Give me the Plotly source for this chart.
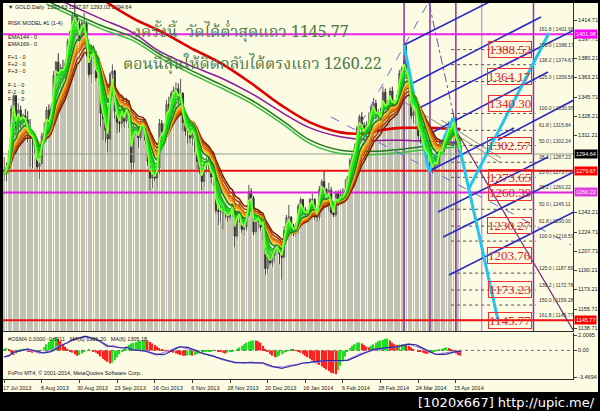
import plotly.graph_objects as go

# ---------------- data ----------------
close = [1277,1283,1295,1335,1347,1318,1334,1323,1329,1325,
         1312,1310,1310,1302,1283,1286,1311,1313,1334,1322,
         1336,1365,1377,1365,1372,1370,1376,1396,1404,1419,
         1418,1411,1396,1412,1412,1390,1366,1386,1386,1363,
         1366,1331,1326,1316,1308,1366,1369,1333,1323,1322,
         1337,1324,1339,1327,1287,1317,1317,1309,1323,1323,
         1307,1288,1273,1276,1273,1282,1322,1315,1315,1339,
         1334,1349,1352,1353,1345,1349,1323,1315,1315,1309,
         1318,1308,1288,1281,1270,1285,1288,1287,1274,1275,
         1244,1243,1244,1242,1242,1238,1242,1250,1221,1242,
         1242,1227,1229,1240,1261,1255,1225,1234,1239,1229,
         1233,1192,1203,1197,1204,1212,1213,1205,1202,1226,
         1238,1238,1230,1225,1229,1248,1254,1245,1240,1242,
         1254,1254,1242,1238,1263,1270,1263,1251,1262,1242,
         1240,1260,1252,1258,1257,1262,1274,1289,1293,1301,
         1318,1328,1320,1312,1321,1323,1336,1340,1329,1331,
         1326,1350,1336,1340,1351,1338,1340,1347,1367,1371,
         1379,1367,1358,1329,1332,1335,1311,1311,1303,1294,
         1294,1284,1280,1289,1285,1303,1297,1310,1312,1320,
         1318,1327,1303,1302,1294.64]
high = [1292,1287,1298,1338,1348,1347,1340,1338,1331,1335,
        1333,1326,1316,1313,1306,1292,1314,1323,1337,1339,
        1340,1369,1378,1385,1375,1379,1379,1398,1405,1421,
        1434,1419,1414,1415,1421,1414,1393,1393,1392,1387,
        1370,1366,1336,1331,1320,1368,1375,1370,1334,1329,
        1343,1338,1345,1343,1329,1324,1329,1320,1326,1326,
        1326,1309,1290,1285,1284,1287,1326,1325,1322,1343,
        1346,1351,1355,1359,1358,1362,1350,1330,1320,1317,
        1322,1322,1318,1292,1285,1287,1292,1292,1289,1283,
        1278,1249,1248,1247,1250,1245,1245,1255,1253,1243,
        1252,1244,1243,1243,1267,1264,1257,1237,1245,1243,
        1236,1236,1213,1206,1206,1213,1217,1213,1207,1230,
        1240,1249,1239,1232,1233,1250,1256,1254,1247,1244,
        1255,1259,1255,1245,1266,1272,1280,1264,1269,1265,
        1248,1262,1262,1263,1264,1272,1275,1291,1295,1304,
        1320,1330,1332,1323,1324,1332,1338,1345,1343,1335,
        1336,1355,1353,1343,1354,1355,1342,1348,1370,1373,
        1383,1392,1366,1361,1336,1339,1338,1315,1316,1307,
        1298,1300,1290,1293,1290,1305,1307,1312,1317,1324,
        1323,1331,1328,1308,1298]
low = [1270,1270,1277,1293,1330,1311,1313,1318,1318,1318,
       1305,1283,1282,1295,1280,1272,1285,1305,1313,1314,
       1321,1330,1360,1363,1356,1364,1358,1372,1383,1394,
       1413,1405,1393,1392,1392,1382,1363,1358,1380,1360,
       1356,1319,1307,1305,1296,1296,1357,1326,1313,1314,
       1318,1318,1322,1318,1277,1281,1311,1300,1306,1311,
       1303,1284,1262,1264,1270,1263,1277,1306,1309,1311,
       1325,1330,1340,1345,1339,1338,1315,1311,1304,1304,
       1302,1296,1281,1277,1262,1265,1278,1278,1268,1266,
       1241,1231,1233,1227,1237,1234,1235,1238,1211,1218,
       1233,1224,1221,1226,1238,1250,1222,1223,1228,1226,
       1217,1186,1188,1195,1193,1198,1207,1196,1182,1202,
       1222,1232,1225,1221,1220,1223,1242,1240,1234,1235,
       1240,1248,1236,1234,1235,1261,1261,1249,1243,1240,
       1238,1238,1248,1250,1252,1254,1262,1273,1284,1288,
       1299,1317,1316,1310,1308,1318,1316,1333,1326,1315,
       1321,1323,1334,1331,1336,1334,1333,1336,1345,1360,
       1368,1365,1354,1326,1322,1321,1306,1304,1302,1289,
       1287,1278,1277,1280,1282,1284,1294,1292,1306,1307,
       1314,1316,1292,1296,1293]
osma = [0.2,0.3,0.1,-0.3,-0.6, -0.4,-0.2,0.1,0.2,
        0.1,-0.1,-0.2,-0.3,-0.2,-0.3,-0.2,0.0,
        0.4,0.8,1.1,1.4,1.6,1.7,1.5,
        1.2,0.8,0.5,0.2,
        -0.1,-0.3,-0.5,-0.7,-0.6,-0.4,-0.2,
        0.0,0.1,0.0,-0.1,-0.3,-0.5,-0.8,-1.1,
        -1.3,-1.5,-1.7,-1.6,-1.3,-0.9,-0.5,
        -0.2,0.1,0.4,0.7,0.9,
        1.0,1.1,1.2,1.25,1.3,1.35,1.3,
        1.1,0.9,0.7,0.5,0.3,0.15,0.05,
        0.0,-0.1,-0.2,
        -0.3,-0.4,-0.5,-0.6,-0.7,-0.7,-0.65,-0.6,-0.7,-0.6,-0.5,-0.4,-0.3,
        -0.25,-0.2,-0.15,-0.1,-0.05,0.0,
        -0.1,-0.2,-0.3,-0.4,-0.3,-0.2,-0.1,0.0,
        0.2,0.4,0.6,0.8,1.0,1.15,1.25,1.3,1.3,1.2,
        1.0,0.6,0.2,-0.2,
        -0.5,-0.7,-0.9,-0.85,-0.7,-0.5,
        -0.3,-0.1,0.05,0.1,0.1,0.05,
        -0.1,-0.3,-0.5,-0.7,-0.9,-1.1,-1.3,-1.5,-1.7,-1.9,-2.1,-2.3,-2.5,-2.7,-2.9,-3.0,-3.1,
        -2.6,-2.0,-1.4,-0.8,-0.2,
        0.3,0.6,0.8,1.0,1.05,
        0.9,0.7,0.5,0.4,
        0.6,0.8,1.0,1.2,1.3,1.4,1.5,1.55,
        1.3,1.0,0.8,
        0.7,0.75,0.8,0.85,0.8,0.6,
        0.4,0.2,0.0,-0.1,-0.2,-0.3,-0.4,-0.45,
        -0.35,-0.25,-0.15,-0.05,
        0.1,0.2,0.3,0.4,
        0.3,0.1,-0.2,-0.4,-0.6,-0.69]

date_ticks = [0,16,32,48,64,80,96,112,128,144,160,176,192]
date_labels = ['17 Jul 2013','8 Aug 2013','30 Aug 2013','23 Sep 2013','16 Oct 2013',
               '6 Nov 2013','28 Nov 2013','20 Dec 2013','16 Jan 2014','6 Feb 2014',
               '28 Feb 2014','24 Mar 2014','15 Apr 2014']
price_ticks = [1414.71,1397.71,1380.21,1363.21,1345.71,1328.21,1311.21,
               1242.21,1224.71,1207.71,1190.21,1173.21,1155.71,1138.71]
osma_ticks = [2.0095, 0.0, -3.4694]
osma_tick_labels = ['2.0095','0.00','-3.4694']

# long moving averages (read at sample bars)
red_ma_x = [40,44,55,67,79,92,105,118,130,143,152,160,169,181,194]
red_ma_y = [1436,1430,1416,1404,1390,1376,1358,1338,1323,1314,1313,1316,1318,1318,1317]
purple_ma_x = [24,41,55,65,79,92,105,118,130,143,156,169,181,194]
purple_ma_y = [1432,1416,1403,1388,1374,1363,1349,1332,1318,1310,1307,1307,1306,1305]
ema144_x = [18,41,55,67,79,92,105,118,130,143,156,169,181,194]
ema144_y = [1432,1410,1399,1383,1370,1357,1343,1325,1307,1298,1297,1299,1302,1304]
ema169_y = [1429,1407,1396,1380,1367,1354,1340,1322,1304,1295,1294,1296,1299,1301]

# horizontal price lines
hline_prices = [1401.98, 1294.64, 1279.67, 1260.22, 1145.77]
hline_colors = ['#ee22ee', '#8fa08f', '#ee1111', '#e020e0', '#ee1111']
hline_widths = [2, 1, 2, 2, 2]

# vertical time lines (bar index)
vline_x = [170, 181, 192, 203, 225]
vline_colors = ['#8a35a0', '#8a35a0', '#8a35a0', '#c9a5d6', '#8a35a0']

# blue channel lines (start bar, start price, end bar, end price)
chan_x0 = [170.0, 173.8, 176.4, 182.3, 209.9, 181.5, 184.4, 186.6, 189.1]
chan_y0 = [1392.3, 1358.3, 1335.9, 1314.3, 1307.2, 1280.3, 1242.7, 1220.3, 1186.2]
chan_x1 = [207.0, 228.2, 242.2, 231.2, 242.2, 216.7, 231.2, 242.2, 242.2]
chan_y1 = [1431.7, 1417.4, 1405.7, 1368.1, 1343.0, 1317.9, 1291.9, 1278.5, 1242.7]

# cyan zigzag projection
cyan_a_x = [170, 180.6, 190.8, 209.9]
cyan_a_y = [1392.3, 1278.5, 1326.9, 1145.9]
cyan_b_x = [197.2, 231.6]
cyan_b_y = [1262.3, 1403.0]

# other trend lines
gray_a_x = [168.7, 211.2]; gray_a_y = [1343.0, 1286.5]
gray_b_x = [185.7, 211.2]; gray_b_y = [1325.1, 1291.0]
purple_diag_x = [190.0, 241.8]; purple_diag_y = [1323.3, 1136.9]
dash_up_x = [151.7, 180.2]; dash_up_y = [1322.4, 1429.9]
dashdot_x = [180.6, 191.2]; dashdot_y = [1429.9, 1327.8]
dash_low_x = [139.0, 241.0]; dash_low_y = [1327.8, 1213.1]

# fibonacci levels
fib_prices = [1401.98,1388.17,1374.67,1359.56,1330.95,1315.84,1302.24,1287.23,1273.73,
              1260.22,1245.11,1230.00,1216.59,1187.89,1172.78,1159.28,1145.77]
fib_labels = ['161.8 | 1401.98','150.0 | 1388.17','138.2 | 1374.67','125.0 | 1359.56',
              '100.0 | 1330.95','61.8 | 1315.84','50.0 | 1302.24','38.2 | 1287.23',
              '23.6 | 1273.73','38.2 | 1260.22','50.0 | 1245.11','61.8 | 1230.00',
              '100.0 | 1216.59','125.0 | 1187.89','138.2 | 1172.78','150.0 | 1159.28',
              '161.8 | 1145.77']
target_prices = [1388.52,1364.17,1340.30,1302.57,1273.65,1260.39,1230.27,1203.76,1173.23,1145.77]

# price-scale marker boxes
axis_box_prices = [1401.98, 1294.64, 1279.67, 1260.22, 1145.77]
axis_box_colors = ['#ff00ff', '#000000', '#ff0000', '#e040e0', '#ff0000']

green_periods = [2, 3, 4, 5, 6, 8]
green_colors = ['#8cff3c', '#00ff00', '#22dd22', '#11bb11', '#2fa82f', '#0c8a0c']
orange_periods = [9, 10, 11, 12, 14, 16]
orange_colors = ['#ffc060', '#ff9a00', '#e67a00', '#c65800', '#a23a00', '#7a1a00']

# ---------------- helpers ----------------
def ema(v, p):
    a = 2.0 / (p + 1)
    out = [v[0]]
    for x in v[1:]:
        out.append(out[-1] + a * (x - out[-1]))
    return out

def sma(v, p):
    out = []
    for i in range(len(v)):
        w = v[max(0, i - p + 1):i + 1]
        out.append(sum(w) / len(w))
    return out

n = len(close)
bars = list(range(n))
open_ = [close[0]] + close[:-1]

X0, X1 = -0.5, 241.8
Y0, Y1 = 1136.03, 1429.94
BG = '#fcfbe4'

fig = go.Figure()

# gray stripes under price
fig.add_trace(go.Bar(x=bars, y=[l - Y0 for l in low], base=Y0, width=0.36,
                     marker=dict(color='#c2c1b5', line=dict(width=0)),
                     xaxis='x', yaxis='y', hoverinfo='skip'))

# vertical time lines
for vx, vc in zip(vline_x, vline_colors):
    fig.add_trace(go.Scatter(x=[vx, vx], y=[Y0, Y1], mode='lines',
                             line=dict(color=vc, width=1.5), xaxis='x', yaxis='y'))

# fib dotted lines
for fp in fib_prices:
    fig.add_trace(go.Scatter(x=[190, 226], y=[fp, fp], mode='lines',
                             line=dict(color='#505050', width=1, dash='dot'), xaxis='x', yaxis='y'))

# horizontal lines
for hp, hc, hw in zip(hline_prices, hline_colors, hline_widths):
    fig.add_trace(go.Scatter(x=[X0, X1], y=[hp, hp], mode='lines',
                             line=dict(color=hc, width=hw), xaxis='x', yaxis='y'))

# long MAs
fig.add_trace(go.Scatter(x=ema144_x, y=ema169_y, mode='lines', line=dict(color='#3cbf3c', width=1.5, shape='spline'), xaxis='x', yaxis='y'))
fig.add_trace(go.Scatter(x=ema144_x, y=ema144_y, mode='lines', line=dict(color='#1e7a1e', width=1.5, shape='spline'), xaxis='x', yaxis='y'))
fig.add_trace(go.Scatter(x=purple_ma_x, y=purple_ma_y, mode='lines', line=dict(color='#8b1a9b', width=1.5, shape='spline'), xaxis='x', yaxis='y'))
fig.add_trace(go.Scatter(x=red_ma_x, y=red_ma_y, mode='lines', line=dict(color='#e00000', width=2.6, shape='spline'), xaxis='x', yaxis='y'))

# trend lines
for xs, ys, col, w, dash in [
        (gray_a_x, gray_a_y, '#8a8a7a', 1, 'solid'),
        (gray_b_x, gray_b_y, '#8a8a7a', 1, 'solid'),
        (purple_diag_x, purple_diag_y, '#7a2a7a', 1.2, 'solid'),
        (dash_up_x, dash_up_y, '#6a6ad8', 1, 'dash'),
        (dashdot_x, dashdot_y, '#6a4ab8', 1, 'dashdot'),
        (dash_low_x, dash_low_y, '#6a6ad8', 1, 'dash')]:
    fig.add_trace(go.Scatter(x=xs, y=ys, mode='lines', line=dict(color=col, width=w, dash=dash), xaxis='x', yaxis='y'))

for a, b, c, d in zip(chan_x0, chan_y0, chan_x1, chan_y1):
    fig.add_trace(go.Scatter(x=[a, c], y=[b, d], mode='lines',
                             line=dict(color='#2b2bc4', width=1.6), xaxis='x', yaxis='y'))

# cyan projection
fig.add_trace(go.Scatter(x=cyan_a_x, y=cyan_a_y, mode='lines', line=dict(color='#25c4ee', width=3), xaxis='x', yaxis='y'))
fig.add_trace(go.Scatter(x=cyan_b_x, y=cyan_b_y, mode='lines', line=dict(color='#25c4ee', width=3), xaxis='x', yaxis='y'))

# candles
fig.add_trace(go.Candlestick(x=bars, open=open_, high=high, low=low, close=close,
                             increasing=dict(line=dict(color='#5a5a5a', width=1), fillcolor='#8a8a8a'),
                             decreasing=dict(line=dict(color='#303030', width=1), fillcolor='#303030'),
                             whiskerwidth=0, xaxis='x', yaxis='y', hoverinfo='skip'))

# EMA ribbons
for p, c in zip(orange_periods[::-1], orange_colors[::-1]):
    fig.add_trace(go.Scatter(x=bars, y=ema(close, p), mode='lines', line=dict(color=c, width=1.5), xaxis='x', yaxis='y'))
for p, c in zip(green_periods[::-1], green_colors[::-1]):
    fig.add_trace(go.Scatter(x=bars, y=ema(close, p), mode='lines', line=dict(color=c, width=1.6), xaxis='x', yaxis='y'))

# ---------------- indicator panel ----------------
osma_colors = ['#22dd22'] + ['#22dd22' if osma[i] > osma[i - 1] else '#ff2020' for i in range(1, n)]
fig.add_trace(go.Bar(x=bars, y=osma, width=0.6, marker=dict(color=osma_colors, line=dict(width=0)),
                     xaxis='x2', yaxis='y2', hoverinfo='skip'))
fig.add_trace(go.Scatter(x=[X0, X1], y=[0, 0], mode='lines', line=dict(color='#707070', width=1, dash='dot'),
                         xaxis='x2', yaxis='y2'))
fig.add_trace(go.Scatter(x=bars, y=ema(close, 8), mode='lines', line=dict(color='#b58ad8', width=1.2), xaxis='x2', yaxis='y3'))
fig.add_trace(go.Scatter(x=bars, y=sma(close, 8), mode='lines', line=dict(color='#2a2aa8', width=1.2), xaxis='x2', yaxis='y3'))

# ---------------- annotations ----------------
def px_x(px):
    return (px - 3) / 570.0

def px_y(py):
    return (379 - py) / 376.0

small = dict(family='Liberation Sans, Arial, sans-serif', size=5.5, color='#202020')
ann = []
info_lines = [('▼ GOLD,Daily  1293.63 1297.97 1293.03 1294.64', 7), ('RISK MODEL #1 (1-4)', 23),
              ('EMA144 - 0', 37), ('EMA169 - 0', 44), ('F+1 - 0', 57), ('F+2 - 0', 64),
              ('F+3 - 0', 71), ('F-1 - 0', 85), ('F-2 - 0', 92), ('F-3 - 0', 99),
              ('#OSMA 0.0000 -0.6911   MA(6) 1306.20   MA(6) 1305.18', 339),
              ('FxPro MT4, © 2001-2014, MetaQuotes Software Corp.', 373)]
for t, py in info_lines:
    ann.append(dict(text=t, xref='paper', yref='paper', x=px_x(6), y=px_y(py), xanchor='left',
                    yanchor='middle', showarrow=False, font=small))

thai_font = dict(family='Noto Serif Thai, Noto Sans Thai, Tlwg Typo, Loma, Garuda, Norasi, Liberation Serif, serif',
                 size=16, color='#4d7a45')
ann.append(dict(text='งครั้งนี้  วัดได้ต่ำสุดแถว 1145.77', xref='paper', yref='paper', x=px_x(131), y=px_y(33),
                xanchor='left', yanchor='middle', showarrow=False, font=thai_font))
ann.append(dict(text='ตอนนี้ลุ้นให้ดีดกลับได้ตรงแถว 1260.22', xref='paper', yref='paper', x=px_x(121), y=px_y(65),
                xanchor='left', yanchor='middle', showarrow=False, font=thai_font))

for fp, fl in zip(fib_prices, fib_labels):
    ann.append(dict(text=fl, xref='x', yref='y', x=226.5, y=fp, xanchor='left', yanchor='bottom',
                    showarrow=False, font=dict(family='Liberation Sans, Arial, sans-serif', size=5, color='#303030')))

for tp in target_prices:
    ann.append(dict(text='%.2f' % tp, xref='x', yref='y', x=215, y=tp, xanchor='center', yanchor='middle',
                    showarrow=False, bordercolor='#f03030', borderwidth=1, borderpad=0,
                    font=dict(family='Liberation Serif, Times New Roman, serif', size=13, color='#e82020')))

for bp, bc in zip(axis_box_prices, axis_box_colors):
    ann.append(dict(text='%.2f' % bp, xref='paper', yref='y', x=1.002, y=bp, xanchor='left', yanchor='middle',
                    showarrow=False, bgcolor=bc, borderpad=1,
                    font=dict(family='Liberation Sans, Arial, sans-serif', size=5.5, color='#ffffff')))

ann.append(dict(text='[1020x667] http://upic.me/', xref='paper', yref='paper', x=px_x(597), y=px_y(402),
                xanchor='right', yanchor='middle', showarrow=False,
                font=dict(family='DejaVu Sans, sans-serif', size=13, color='#ffffff')))

shapes = [
    dict(type='rect', xref='paper', yref='paper', x0=-0.1, x1=1.1, y0=px_y(392), y1=-0.2,
         fillcolor='#000000', line=dict(width=0), layer='above'),
    dict(type='rect', xref='paper', yref='paper', x0=-0.1, x1=0.0, y0=-0.2, y1=1.1,
         fillcolor='#000000', line=dict(width=0), layer='above'),
    dict(type='rect', xref='paper', yref='paper', x0=px_x(598), x1=1.1, y0=-0.2, y1=1.1,
         fillcolor='#000000', line=dict(width=0), layer='above'),
    dict(type='rect', xref='paper', yref='paper', x0=-0.1, x1=1.1, y0=1.0, y1=1.1,
         fillcolor='#000000', line=dict(width=0), layer='above'),
]

axis_font = dict(family='Liberation Sans, Arial, sans-serif', size=5.5, color='#202020')
fig.update_layout(
    width=600, height=411,
    margin=dict(l=3, r=27, t=3, b=32, pad=0),
    paper_bgcolor=BG, plot_bgcolor=BG,
    showlegend=False, barmode='overlay', hovermode=False,
    xaxis=dict(domain=[0, 1], range=[X0, X1], anchor='y', showgrid=False, zeroline=False,
               showticklabels=False, ticks='', showline=True, linecolor='#303030', linewidth=1,
               rangeslider=dict(visible=False)),
    yaxis=dict(domain=[px_y(331), 1], range=[Y0, Y1], anchor='x', side='right', showgrid=False,
               zeroline=False, tickvals=price_ticks, ticktext=['%.2f' % v for v in price_ticks],
               ticks='outside', ticklen=3, tickcolor='#404040', tickfont=axis_font,
               showline=True, linecolor='#303030', linewidth=1, automargin=False),
    xaxis2=dict(domain=[0, 1], range=[X0, X1], anchor='y2', showgrid=False, zeroline=False,
                tickvals=date_ticks, ticktext=date_labels, ticks='outside', ticklen=3,
                tickcolor='#404040', tickfont=axis_font, ticklabelshift=13,
                showline=True, linecolor='#303030', linewidth=1, automargin=False),
    yaxis2=dict(domain=[0, px_y(333)], range=[-3.7303, 2.2704], anchor='x2', side='right',
                showgrid=False, zeroline=False, tickvals=osma_ticks, ticktext=osma_tick_labels,
                ticks='outside', ticklen=3, tickcolor='#404040', tickfont=axis_font,
                showline=True, linecolor='#303030', linewidth=1, automargin=False),
    yaxis3=dict(overlaying='y2', anchor='x2', range=[Y0, Y1], visible=False),
    annotations=ann, shapes=shapes,
)

fig.write_html('out.html', config={'displayModeBar': False},
               post_script="document.body.style.margin='0px';document.body.style.overflow='hidden';")
